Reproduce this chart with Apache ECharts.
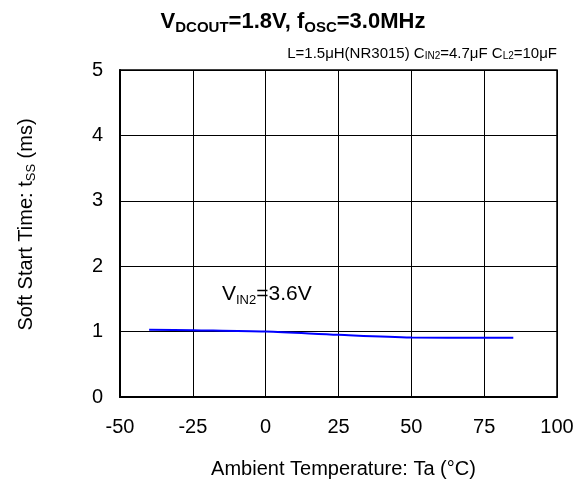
<!DOCTYPE html>
<html>
<head>
<meta charset="utf-8">
<script src="https://cdn.jsdelivr.net/npm/echarts@6/dist/echarts.min.js"></script>
<style>
    html, body { margin: 0; padding: 0; background: #fff; }
    #main { width: 585px; height: 488px; }
</style>
</head>
<body>
<div id="main"></div>
<script>
// 数据
let temps = [-40, -25, 0, 25, 50, 75, 85];
let tss = [1.03, 1.02, 1.0, 0.95, 0.91, 0.905, 0.905];
let xTicks = [-50, -25, 0, 25, 50, 75, 100];
let yTicks = [0, 1, 2, 3, 4, 5];

let font = '"Liberation Sans", Arial, sans-serif';
let chart = echarts.init(document.querySelector('#main'));

let option = {
    backgroundColor: '#fff',
    animation: false,
    textStyle: { fontFamily: font },
    title: [{
        left: 293, top: 9, textAlign: 'center', padding: 0,
        text: '{b|V}{s|DCOUT}{b|=1.8V, f}{s|OSC}{b|=3.0MHz}',
        textStyle: {
            rich: {
                b: { fontFamily: font, fontSize: 22, fontWeight: 'bold', color: '#000', lineHeight: 25 },
                s: { fontFamily: font, fontSize: 15, fontWeight: 'bold', color: '#000', padding: [12, 0, 0, 0], lineHeight: 25 }
            }
        }
    }, {
        right: 28, top: 45, padding: 0,
        text: '{n|L=1.5μH(NR3015) C}{s|IN2}{n|=4.7μF C}{s|L2}{n|=10μF}',
        textStyle: {
            rich: {
                n: { fontFamily: font, fontSize: 15, fontWeight: 'normal', color: '#000', lineHeight: 17 },
                s: { fontFamily: font, fontSize: 10, fontWeight: 'normal', color: '#000', padding: [6, 0, 0, 0], lineHeight: 17 }
            }
        }
    }, {
        left: 222, top: 282, padding: 0,
        text: '{n|V}{s|IN2}{n|=3.6V}',
        textStyle: {
            rich: {
                n: { fontFamily: font, fontSize: 21, fontWeight: 'normal', color: '#000', lineHeight: 24 },
                s: { fontFamily: font, fontSize: 13, fontWeight: 'normal', color: '#000', padding: [13, 0, 0, 0], lineHeight: 24 }
            }
        }
    }],
    grid: {
        left: 120, top: 70, right: 28, bottom: 91,
        show: true, borderColor: '#000', borderWidth: 1.5
    },
    xAxis: {
        type: 'value',
        min: -50, max: 100, interval: 25,
        name: 'Ambient Temperature: Ta (°C)',
        nameLocation: 'middle', nameGap: 62,
        nameTextStyle: { fontFamily: font, fontSize: 20, color: '#000', padding: [0, 0, 0, 10] },
        axisLine: { onZero: false, lineStyle: { color: '#000', width: 2 } },
        axisTick: { show: false },
        axisLabel: {
            fontFamily: font, fontSize: 20, color: '#000', margin: 20,
            formatter: function (v) { return xTicks.indexOf(v) >= 0 ? String(v) : ''; }
        },
        splitLine: { lineStyle: { color: '#000', width: 1 } }
    },
    yAxis: {
        type: 'value',
        min: 0, max: 5, interval: 1,
        name: '{n|Soft Start Time: t}{s|SS}{n| (ms)}',
        nameLocation: 'middle', nameGap: 82, nameRotate: 90,
        nameTextStyle: {
            padding: [0, 0, 0, 18],
            rich: {
                n: { fontFamily: font, fontSize: 20, color: '#000', lineHeight: 24 },
                s: { fontFamily: font, fontSize: 13, color: '#000', padding: [11, 0, 0, 0], lineHeight: 24 }
            }
        },
        axisLine: { show: true, onZero: false, lineStyle: { color: '#000', width: 2 } },
        axisTick: { show: false },
        axisLabel: {
            fontFamily: font, fontSize: 20, color: '#000', margin: 17,
            formatter: function (v) { return yTicks.indexOf(v) >= 0 ? String(v) : ''; }
        },
        splitLine: { lineStyle: { color: '#000', width: 1 } }
    },
    series: [{
        type: 'line',
        data: temps.map((t, i) => [t, tss[i]]),
        smooth: 0.3,
        symbol: 'none',
        lineStyle: { color: '#0000ff', width: 2 }
    }]
};
chart.setOption(option);
</script>
</body>
</html>
